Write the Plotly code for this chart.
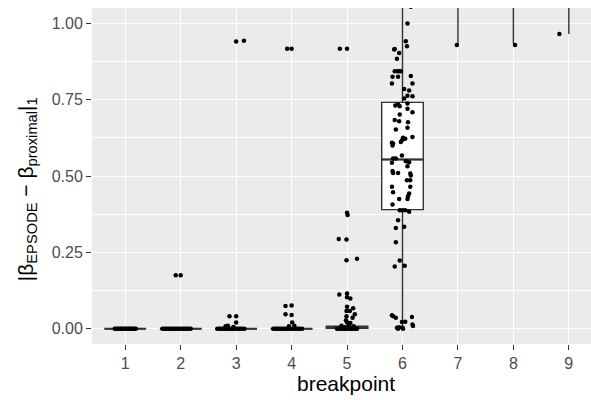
import plotly.graph_objects as go

# ---------------- data ----------------
categories = [1, 2, 3, 4, 5, 6, 7, 8, 9]
tick_labels = ["1", "2", "3", "4", "5", "6", "7", "8", "9"]

# boxplot statistics (boxes of 7-9 lie above the visible window)
box_q1 = [0.0, 0.0, 0.0, 0.0, 0.001, 0.390, 1.30, 1.30, 1.30]
box_median = [0.0, 0.0, 0.0, 0.0, 0.004, 0.554, 1.50, 1.50, 1.50]
box_q3 = [0.0, 0.0, 0.0, 0.0, 0.008, 0.741, 1.70, 1.70, 1.70]
box_low = [0.0, 0.0, 0.0, 0.0, 0.0, 0.0, 0.929, 0.933, 0.965]
box_high = [0.0, 0.0, 0.0, 0.0, 0.012, 1.26, 2.0, 2.0, 2.0]

# jittered points (x = jittered position, y = value)
g1_x = [0.81, 0.83, 0.86, 0.88, 0.91, 0.93, 0.95, 0.98, 1.00, 1.02, 1.05, 1.07, 1.09, 1.12, 1.14, 1.16, 1.19]
g1_y = [0.0] * 17

g2_x = [1.67, 1.70, 1.73, 1.76, 1.79, 1.82, 1.85, 1.88, 1.91, 1.94, 1.97, 2.00, 2.03, 2.06, 2.09, 2.12, 2.15, 2.18,
        1.91, 2.00]
g2_y = [0.0] * 18 + [0.175, 0.175]

g3_x = [2.66, 2.69, 2.72, 2.75, 2.78, 2.81, 2.84, 2.87, 2.90, 2.93, 2.96, 2.99, 3.02, 3.05, 3.08, 3.11, 3.15,
        2.88, 3.00, 3.00, 2.85, 2.81, 2.95, 3.00, 3.14]
g3_y = [0.0] * 17 + [0.041, 0.041, 0.020, 0.010, 0.008, 0.006, 0.940, 0.943]

g4_x = [3.67, 3.70, 3.73, 3.76, 3.79, 3.82, 3.85, 3.88, 3.91, 3.94, 3.97, 4.00, 4.03, 4.06, 4.09, 4.12, 4.15, 4.19,
        3.89, 4.00, 3.89, 4.00, 4.01, 3.95, 4.05, 3.92, 4.00]
g4_y = [0.0] * 18 + [0.074, 0.076, 0.047, 0.045, 0.020, 0.008, 0.010, 0.917, 0.917]

g5_x = [4.82, 4.85, 4.88, 4.91, 4.94, 4.97, 5.00, 5.03, 5.06, 5.09, 5.12, 5.15, 5.18,
        5.00, 5.01, 4.85, 4.99, 4.99, 5.18, 4.86, 5.00, 5.00, 5.06, 5.00, 5.11, 4.99, 5.05,
        5.14, 4.99, 5.10, 4.98, 5.00, 5.06, 4.90, 5.03, 5.12, 4.95, 4.87, 5.00]
g5_y = [0.0] * 13 + [0.380, 0.372, 0.294, 0.292, 0.224, 0.229, 0.112, 0.115, 0.103, 0.099, 0.072, 0.067, 0.058,
                     0.058, 0.047, 0.041, 0.036, 0.028, 0.020, 0.019, 0.010, 0.012, 0.008, 0.005, 0.917, 0.917]

g6_x = [6.15, 6.09, 6.06, 6.08, 5.86, 5.85, 5.94, 5.90, 5.86, 5.91, 5.94, 5.97, 5.82, 5.92, 6.15, 5.81, 6.18,
        6.03, 6.12, 6.09, 6.03, 6.18, 5.87, 5.92, 5.95, 6.09, 6.09, 6.18, 5.95, 5.86, 5.94, 6.10, 6.09, 5.88,
        6.18, 6.01, 6.05, 5.99, 5.81, 5.82, 5.83, 5.97, 5.99, 5.83, 5.88, 6.06, 6.12, 5.81, 6.09, 5.82, 5.83,
        5.92, 6.14, 6.15, 6.08, 6.14, 5.81, 6.14, 5.83, 6.12, 6.10, 6.09, 5.94, 5.82, 5.95, 6.00, 6.05, 6.12,
        5.92, 5.88, 6.03, 5.88, 5.95, 5.86, 6.04, 5.81, 5.83, 5.88, 6.17, 5.99, 6.05, 6.18, 6.19, 5.90, 5.94,
        6.00, 6.01, 5.92, 6.05, 5.90, 6.10]
g6_y = [1.054, 0.999, 0.941, 0.925, 0.916, 0.914, 0.903, 0.884, 0.843, 0.843, 0.843, 0.843, 0.825, 0.825, 0.827,
        0.803, 0.803, 0.785, 0.780, 0.763, 0.754, 0.761, 0.731, 0.734, 0.728, 0.737, 0.720, 0.709, 0.701, 0.683,
        0.679, 0.676, 0.658, 0.652, 0.628, 0.625, 0.622, 0.617, 0.609, 0.600, 0.606, 0.611, 0.567, 0.557, 0.557,
        0.548, 0.545, 0.543, 0.532, 0.516, 0.510, 0.510, 0.508, 0.502, 0.486, 0.486, 0.465, 0.465, 0.447, 0.443,
        0.434, 0.425, 0.425, 0.407, 0.388, 0.388, 0.388, 0.383, 0.355, 0.330, 0.334, 0.283, 0.223, 0.204, 0.206,
        0.044, 0.041, 0.036, 0.038, 0.022, 0.023, 0.014, 0.009, 0.003, 0.005, 0.003, 0.0, 0.0, 1.12, 1.20, 1.26]

g7_x = [6.98]
g7_y = [0.929]
g8_x = [8.03]
g8_y = [0.929]
g9_x = [8.83]
g9_y = [0.965]

point_x = g1_x + g2_x + g3_x + g4_x + g5_x + g6_x + g7_x + g8_x + g9_x
point_y = g1_y + g2_y + g3_y + g4_y + g5_y + g6_y + g7_y + g8_y + g9_y

y_ticks = [0.0, 0.25, 0.5, 0.75, 1.0]
y_tick_labels = ["0.00", "0.25", "0.50", "0.75", "1.00"]

# ---------------- figure ----------------
FONT = "Liberation Sans, Arial, Helvetica, sans-serif"
BOX_W = 0.75

fig = go.Figure()

fig.add_trace(go.Box(
    x=categories, q1=box_q1, median=box_median, q3=box_q3,
    lowerfence=box_low, upperfence=box_high,
    width=BOX_W, boxpoints=False, whiskerwidth=0,
    fillcolor="white", line=dict(color="#333333", width=1.4),
    showlegend=False, hoverinfo="skip",
))

# thicker median segments (ggplot fattens medians)
mx, my = [], []
for c, m in zip(categories, box_median):
    mx += [c - BOX_W / 2, c + BOX_W / 2, None]
    my += [m, m, None]
fig.add_trace(go.Scatter(x=mx, y=my, mode="lines",
                         line=dict(color="#333333", width=2.2),
                         showlegend=False, hoverinfo="skip"))

fig.add_trace(go.Scatter(
    x=point_x, y=point_y, mode="markers",
    marker=dict(color="black", size=4.5, line=dict(width=0)),
    showlegend=False, hoverinfo="skip",
))

fig.update_layout(
    width=591, height=400,
    margin=dict(l=92, r=0, t=8, b=56),
    paper_bgcolor="white", plot_bgcolor="#EBEBEB",
    font=dict(family=FONT, color="#4D4D4D", size=16),
    xaxis=dict(
        range=[0.4, 9.4], tickmode="array", tickvals=categories, ticktext=tick_labels,
        showgrid=True, gridcolor="white", gridwidth=1.1, zeroline=False,
        ticks="outside", ticklen=5, tickwidth=1, tickcolor="#333333",
        tickfont=dict(size=16, color="#4D4D4D"), showline=False,
    ),
    yaxis=dict(
        range=[-0.05, 1.05], tickmode="array", tickvals=y_ticks, ticktext=y_tick_labels,
        showgrid=True, gridcolor="white", gridwidth=1.1, zeroline=False,
        ticks="outside", ticklen=5, tickwidth=1, tickcolor="#333333",
        tickfont=dict(size=16, color="#4D4D4D"), showline=False,
        minor=dict(tickmode="array", tickvals=[-0.125, 0.125, 0.375, 0.625, 0.875],
                   showgrid=True, gridcolor="white", gridwidth=0.5, ticks=""),
    ),
    annotations=[
        dict(text="breakpoint", xref="paper", yref="paper", x=0.509, y=-0.119,
             xanchor="center", yanchor="middle", showarrow=False,
             font=dict(family=FONT, size=21, color="black")),
        dict(text="|β<sub>EPSODE</sub> − β<sub>proximal</sub>|<sub>1</sub>",
             xref="paper", yref="paper", x=-0.13, y=0.461, textangle=-90,
             xanchor="center", yanchor="middle", showarrow=False,
             font=dict(family=FONT, size=21, color="black")),
    ],
)

fig.write_html("out.html")
